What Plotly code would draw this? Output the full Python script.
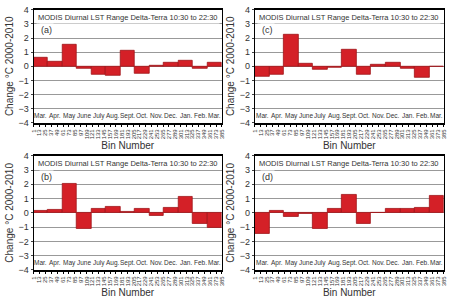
import plotly.graph_objects as go
from plotly.subplots import make_subplots

months = ["Mar.", "Apr.", "May", "June", "July", "Aug.", "Sept.", "Oct.", "Nov.", "Dec.", "Jan.", "Feb.", "Mar."]
bin_ticks = list(range(1, 386, 12))
vals_a = [0.6, 0.3, 1.5, -0.2, -0.6, -0.65, 1.1, -0.5, 0.02, 0.25, 0.4, -0.2, 0.25]
vals_b = [0.15, 0.2, 2.05, -1.1, 0.3, 0.4, 0.05, 0.25, -0.2, 0.35, 1.1, -0.75, -1.05]
vals_c = [-0.75, -0.6, 2.2, 0.15, -0.25, -0.1, 1.15, -0.6, 0.1, 0.25, -0.15, -0.8, -0.05]
vals_d = [-1.5, 0.15, -0.25, -0.1, -1.15, 0.3, 1.3, -0.75, 0.02, 0.3, 0.3, 0.35, 1.2]
title_text = "MODIS Diurnal LST Range Delta-Terra 10:30 to 22:30"

x0, x1 = bin_ticks[0], bin_ticks[-1]
w = (x1 - x0) / len(months)
centers = [x0 + (i + 0.5) * w for i in range(len(months))]

fig = make_subplots(rows=2, cols=2)
panels = [(vals_a, "(a)", 1, 1), (vals_c, "(c)", 1, 2), (vals_b, "(b)", 2, 1), (vals_d, "(d)", 2, 2)]
domx = {1: [0.069, 0.493], 2: [0.567, 0.993]}
domy = {1: [0.599, 0.984], 2: [0.099, 0.487]}
red = "#d42027"
for vals, lab, r, c in panels:
    fig.add_trace(go.Bar(x=centers, y=vals, width=[w] * len(vals), marker=dict(color=red, line=dict(color="#a01418", width=0.8)),
                         showlegend=False), row=r, col=c)
    idx = (r - 1) * 2 + c
    xa = "x" if idx == 1 else f"x{idx}"
    ya = "y" if idx == 1 else f"y{idx}"
    fig.update_xaxes(domain=domx[c], range=[x0, x1], tickmode="array", tickvals=bin_ticks,
                     ticktext=[str(t) for t in bin_ticks], tickangle=-90, tickfont=dict(size=6, color="#333"),
                     showgrid=False, showline=True, linecolor="black", linewidth=2, mirror=True,
                     ticks="outside", ticklen=2, tickcolor="black", zeroline=False,
                     title=dict(text="Bin Number", font=dict(size=10, color="#333"), standoff=4), row=r, col=c)
    fig.update_yaxes(domain=domy[r], range=[-4, 4], dtick=1, tickfont=dict(size=9, color="#333"),
                     showgrid=True, gridcolor="#999", gridwidth=1, showline=True, linecolor="black", linewidth=1,
                     mirror=True, ticks="outside", ticklen=2, zeroline=False,
                     title=dict(text="Change °C 2000-2010", font=dict(size=10, color="#333"), standoff=3), row=r, col=c)
    fig.add_annotation(x=0.5, y=3.45, xref=f"{xa} domain", yref=ya, text=title_text, showarrow=False,
                       font=dict(size=7.5, color="#333"), bgcolor="white")
    fig.add_annotation(x=12, y=2.55, xref=xa, yref=ya, text=lab, showarrow=False, xanchor="left",
                       font=dict(size=9, color="#333"), bgcolor="white")
    for m, cx in zip(months, centers):
        fig.add_annotation(x=cx, y=-3.5, xref=xa, yref=ya, text=m, showarrow=False,
                           font=dict(size=6.5, color="#333"))

fig.update_layout(width=450, height=304, margin=dict(l=0, r=0, t=0, b=0), paper_bgcolor="white",
                  plot_bgcolor="white", bargap=0, font=dict(family="Arial, Liberation Sans, sans-serif"))
fig.write_html("out.html")
